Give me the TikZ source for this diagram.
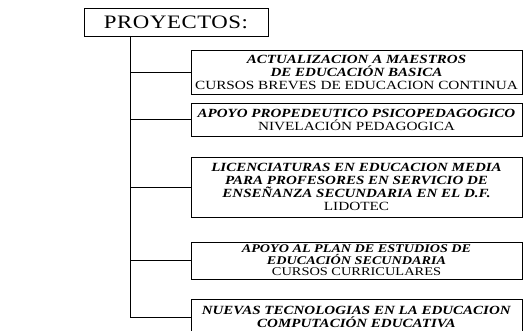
\documentclass[tikz,border=0pt]{standalone}
\usepackage{fontspec}
\setmainfont{Liberation Serif}[FakeStretch=1.22,
  BoldItalicFeatures={FakeStretch=1.2}]
\newfontfamily\titulofont[FakeStretch=1.2,LetterSpace=3]{Liberation Serif}
\newcommand{\bi}[1]{\textbf{\textit{#1}}}

\begin{document}
\begin{tikzpicture}[x=1pt,y=-1pt,
  proybox/.style={draw,line width=0.8pt,minimum width=331pt,inner sep=0pt,
    align=center,font=\fontsize{12.5}{13}\selectfont},
  rama/.style={line width=0.8pt}]
\useasboundingbox (0,0) rectangle (525,331);

\node[draw,line width=0.8pt,minimum width=184pt,minimum height=28pt,
  font=\titulofont\fontsize{19}{21}\selectfont] (proy) at (176,22) {PROYECTOS:};

\begin{scope}[every node/.style={proybox}]
  \node[minimum height=44pt] (actual) at (356.5,72)
    {\bi{ACTUALIZACION A MAESTROS}\\ \bi{DE EDUCACIÓN BASICA}\\ CURSOS BREVES DE EDUCACION CONTINUA};
  \node[minimum height=33pt] (prope) at (356.5,119.5)
    {\bi{APOYO PROPEDEUTICO PSICOPEDAGOGICO}\\ NIVELACIÓN PEDAGOGICA};
  \node[minimum height=60pt] (lidotec) at (356.5,187)
    {\bi{LICENCIATURAS EN EDUCACION MEDIA}\\ \bi{PARA PROFESORES EN SERVICIO DE}\\
     \bi{ENSEÑANZA SECUNDARIA EN EL D.F.}\\ LIDOTEC};
  \node[minimum height=37pt,font=\fontsize{11.8}{11.6}\selectfont] (plan) at (356.5,260.5)
    {\bi{APOYO AL PLAN DE ESTUDIOS DE}\\ \bi{EDUCACIÓN SECUNDARIA}\\ CURSOS CURRICULARES};
  \node[minimum height=36pt] (tecno) at (356.5,317)
    {\bi{NUEVAS TECNOLOGIAS EN LA EDUCACION}\\ \bi{COMPUTACIÓN EDUCATIVA}};
\end{scope}

\coordinate (tronco) at (130,36);
\draw[rama] (tronco) |- (tecno.west);
\foreach \b in {actual,prope,lidotec,plan}
  \draw[rama] (tronco |- \b.west) -- (\b.west);
\end{tikzpicture}
\end{document}
